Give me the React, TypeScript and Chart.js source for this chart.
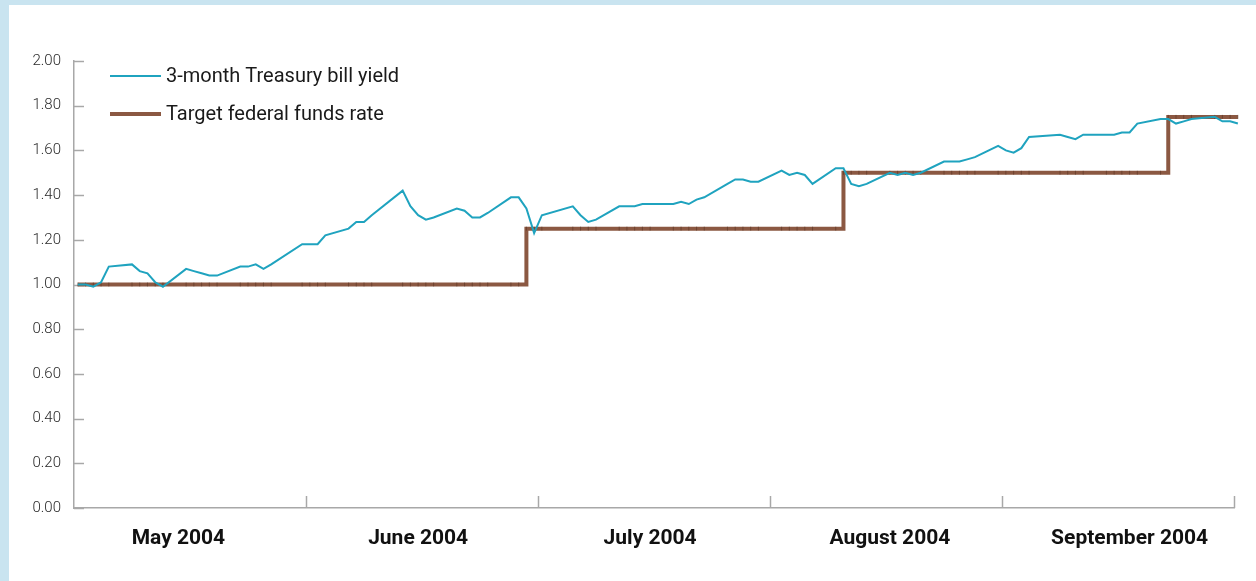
import React, { useEffect, useRef } from 'react';
import { Chart, registerables } from 'chart.js';

Chart.register(...registerables);

// Observation dates (business days)
const dates = [
  '2004-05-03','2004-05-04','2004-05-05','2004-05-06','2004-05-07','2004-05-10','2004-05-11','2004-05-12','2004-05-13','2004-05-14',
  '2004-05-17','2004-05-18','2004-05-19','2004-05-20','2004-05-21','2004-05-24','2004-05-25','2004-05-26','2004-05-27','2004-05-28',
  '2004-06-01','2004-06-02','2004-06-03','2004-06-04','2004-06-07','2004-06-08','2004-06-09','2004-06-10','2004-06-14','2004-06-15',
  '2004-06-16','2004-06-17','2004-06-18','2004-06-21','2004-06-22','2004-06-23','2004-06-24','2004-06-25','2004-06-28','2004-06-29',
  '2004-06-30',
  '2004-07-01','2004-07-02','2004-07-06','2004-07-07','2004-07-08','2004-07-09','2004-07-12','2004-07-13','2004-07-14','2004-07-15',
  '2004-07-16','2004-07-19','2004-07-20','2004-07-21','2004-07-22','2004-07-23','2004-07-26','2004-07-27','2004-07-28','2004-07-29',
  '2004-07-30',
  '2004-08-02','2004-08-03','2004-08-04','2004-08-05','2004-08-06','2004-08-09','2004-08-10','2004-08-11','2004-08-12','2004-08-13',
  '2004-08-16','2004-08-17','2004-08-18','2004-08-19','2004-08-20','2004-08-23','2004-08-24','2004-08-25','2004-08-26','2004-08-27',
  '2004-08-30','2004-08-31',
  '2004-09-01','2004-09-02','2004-09-03','2004-09-07','2004-09-08','2004-09-09','2004-09-10','2004-09-13','2004-09-14','2004-09-15',
  '2004-09-16','2004-09-17','2004-09-20','2004-09-21','2004-09-22','2004-09-23','2004-09-24','2004-09-27','2004-09-28','2004-09-29',
  '2004-09-30',
];

// 3-month Treasury bill yield (percent)
const tbillYield = [
  1.00,1.00,0.99,1.01,1.08,1.09,1.06,1.05,1.01,0.99,
  1.07,1.06,1.05,1.04,1.04,1.08,1.08,1.09,1.07,1.09,
  1.18,1.18,1.18,1.22,1.25,1.28,1.28,1.31,1.42,1.35,
  1.31,1.29,1.30,1.34,1.33,1.30,1.30,1.32,1.39,1.39,
  1.34,
  1.23,1.31,1.35,1.31,1.28,1.29,1.35,1.35,1.35,1.36,
  1.36,1.36,1.37,1.36,1.38,1.39,1.45,1.47,1.47,1.46,
  1.46,
  1.51,1.49,1.50,1.49,1.45,1.52,1.52,1.45,1.44,1.45,
  1.50,1.49,1.50,1.49,1.50,1.55,1.55,1.55,1.56,1.57,
  1.62,1.60,
  1.59,1.61,1.66,1.67,1.66,1.65,1.67,1.67,1.67,1.68,
  1.68,1.72,1.74,1.74,1.72,1.73,1.74,1.75,1.73,1.73,
  1.72,
];

// Target federal funds rate (percent)
const targetRate = [
  1.00,1.00,1.00,1.00,1.00,1.00,1.00,1.00,1.00,1.00,
  1.00,1.00,1.00,1.00,1.00,1.00,1.00,1.00,1.00,1.00,
  1.00,1.00,1.00,1.00,1.00,1.00,1.00,1.00,1.00,1.00,
  1.00,1.00,1.00,1.00,1.00,1.00,1.00,1.00,1.00,1.00,
  1.25,
  1.25,1.25,1.25,1.25,1.25,1.25,1.25,1.25,1.25,1.25,
  1.25,1.25,1.25,1.25,1.25,1.25,1.25,1.25,1.25,1.25,
  1.25,
  1.25,1.25,1.25,1.25,1.25,1.25,1.50,1.50,1.50,1.50,
  1.50,1.50,1.50,1.50,1.50,1.50,1.50,1.50,1.50,1.50,
  1.50,1.50,
  1.50,1.50,1.50,1.50,1.50,1.50,1.50,1.50,1.50,1.50,
  1.50,1.50,1.50,1.75,1.75,1.75,1.75,1.75,1.75,1.75,
  1.75,
];

const seriesLabels = ['3-month Treasury bill yield', 'Target federal funds rate'];
const monthLabels = ['May 2004', 'June 2004', 'July 2004', 'August 2004', 'September 2004'];
const monthLabelDates = ['2004-05-16', '2004-06-16', '2004-07-16', '2004-08-16', '2004-09-16'];
const yMin = 0;
const yMax = 2;
const yStep = 0.2;

const BASE = Date.UTC(2004, 4, 3);
const dayOf = (s: string) => {
  const [y, m, d] = s.split('-').map(Number);
  return (Date.UTC(y, m - 1, d) - BASE) / 86400000;
};

const TEAL = '#1fa3bf';
const BROWN = '#8b5842';
const AXIS = '#a8a8a8';
const FONT = "Roboto, 'Open Sans', 'DejaVu Sans', sans-serif";

const decorPlugin = {
  id: 'decor',
  beforeDatasetsDraw(chart: any) {
    const { ctx, chartArea, scales } = chart;
    ctx.save();
    ctx.strokeStyle = AXIS;
    ctx.lineWidth = 1.5;
    scales.y.ticks.forEach((t: any) => {
      const y = Math.round(scales.y.getPixelForValue(t.value)) + 0.5;
      ctx.beginPath();
      ctx.moveTo(chartArea.left, y);
      ctx.lineTo(chartArea.left + 10, y);
      ctx.stroke();
    });
    const xs = scales.x;
    for (let k = 1; k <= 5; k++) {
      const v = xs.min + (k * (xs.max - xs.min)) / 5;
      const x = Math.round(xs.getPixelForValue(v)) + 0.5;
      ctx.beginPath();
      ctx.moveTo(x, chartArea.bottom);
      ctx.lineTo(x, chartArea.bottom - 12);
      ctx.stroke();
    }
    ctx.restore();
  },
  afterDraw(chart: any) {
    const { ctx, chartArea } = chart;
    ctx.save();
    const rows = [chartArea.top + 15, chartArea.top + 53];
    chart.data.datasets.forEach((ds: any, i: number) => {
      const y = rows[i];
      ctx.strokeStyle = ds.borderColor;
      ctx.lineWidth = ds.borderWidth;
      ctx.beginPath();
      ctx.moveTo(chartArea.left + 36, y);
      ctx.lineTo(chartArea.left + 87, y);
      ctx.stroke();
      ctx.fillStyle = '#1a1a1a';
      ctx.font = `20px ${FONT}`;
      ctx.textBaseline = 'middle';
      ctx.textAlign = 'left';
      ctx.fillText(ds.label, chartArea.left + 92, y + 1);
    });
    ctx.restore();
  },
};

export default function App() {
  const ref = useRef<HTMLCanvasElement>(null);

  useEffect(() => {
    document.body.style.margin = '0';
    if (!ref.current) return;
    const xs = dates.map(dayOf);
    const labelDays = monthLabelDates.map(dayOf);
    const chart = new Chart(ref.current, {
      type: 'line',
      data: {
        datasets: [
          {
            label: seriesLabels[0],
            data: xs.map((x, i) => ({ x, y: tbillYield[i] })),
            borderColor: TEAL,
            backgroundColor: TEAL,
            borderWidth: 2,
            pointRadius: 0,
            tension: 0,
            clip: false as any,
          },
          {
            label: seriesLabels[1],
            data: xs.map((x, i) => ({ x, y: targetRate[i] })),
            borderColor: BROWN,
            backgroundColor: BROWN,
            borderWidth: 4,
            stepped: true,
            pointStyle: 'line',
            rotation: 90,
            pointRadius: 2,
            pointBorderWidth: 1,
            pointBorderColor: 'rgba(80,45,30,0.5)',
            tension: 0,
            clip: false as any,
          },
        ],
      },
      options: {
        responsive: false,
        animation: false,
        devicePixelRatio: 1,
        layout: { padding: { top: 61, right: 22, left: 0, bottom: 0 } },
        plugins: { legend: { display: false }, tooltip: { enabled: false } },
        scales: {
          x: {
            type: 'linear',
            min: -0.5,
            max: 149.5,
            grid: { display: false },
            border: { display: true, color: AXIS, width: 1.5 },
            afterBuildTicks: (scale: any) => {
              scale.ticks = labelDays.map((v) => ({ value: v }));
            },
            afterFit: (scale: any) => {
              scale.height = 73;
            },
            ticks: {
              autoSkip: false,
              maxRotation: 0,
              padding: 10,
              color: '#111',
              font: { family: FONT, size: 21, weight: 'bold' },
              callback: (_v: any, i: number) => monthLabels[i],
            },
          },
          y: {
            min: yMin,
            max: yMax,
            grid: { display: false },
            border: { display: true, color: AXIS, width: 1.5 },
            afterFit: (scale: any) => {
              scale.width = 74;
            },
            ticks: {
              stepSize: yStep,
              padding: 5,
              color: '#2a2a2a',
              font: { family: FONT, size: 15, weight: '300' as any },
              callback: (v: any) => Number(v).toFixed(2),
            },
          },
        },
      },
      plugins: [decorPlugin],
    });
    return () => chart.destroy();
  }, []);

  return (
    <div style={{ position: 'fixed', left: 0, top: 0, width: 1256, height: 581, background: '#c9e4f0', overflow: 'hidden' }}>
      <div style={{ position: 'absolute', left: 9, top: 5, right: 0, bottom: 0, background: '#ffffff' }} />
      <canvas ref={ref} width={1256} height={581} style={{ position: 'absolute', left: 0, top: 0, width: 1256, height: 581 }} />
    </div>
  );
}
